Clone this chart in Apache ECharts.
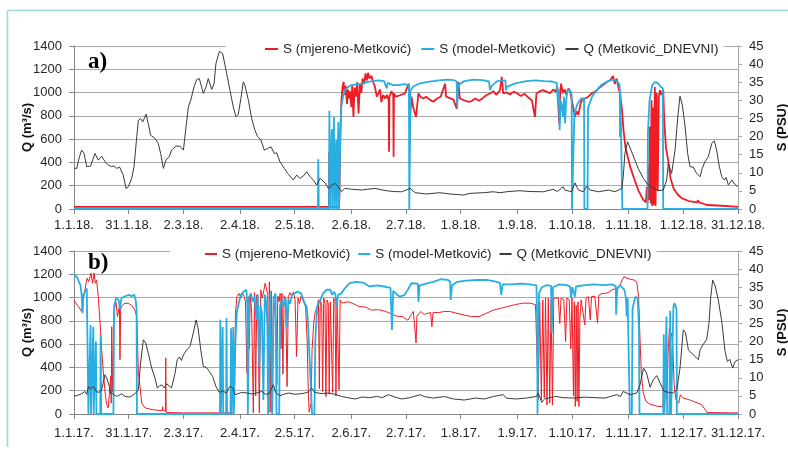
<!DOCTYPE html>
<html>
<head>
<meta charset="utf-8">
<script src="https://cdn.jsdelivr.net/npm/echarts@6/dist/echarts.min.js"></script>
<style>
  html, body { margin: 0; padding: 0; background: #fff; }
  #chart { width: 788px; height: 450px; }
</style>
</head>
<body>
<div id="chart"></div>
<script>
// Legend / series names
const seriesNames = ['S (mjereno-Metković)', 'S (model-Metković)', 'Q (Metković_DNEVNI)'];

// Day-of-year positions of the date ticks and their labels
const tickDays = [0, 30, 60, 91, 121, 152, 182, 212, 243, 273, 304, 334, 364];
const tickLabelsA = ['1.1.18.', '31.1.18.', '2.3.18.', '2.4.18.', '2.5.18.', '2.6.18.', '2.7.18.', '1.8.18.', '1.9.18.', '1.10.18.', '1.11.18.', '1.12.18.', '31.12.18.'];
const tickLabelsB = ['1.1.17.', '31.1.17.', '2.3.17.', '2.4.17.', '2.5.17.', '2.6.17.', '2.7.17.', '1.8.17.', '1.9.17.', '1.10.17.', '1.11.17.', '1.12.17.', '31.12.17.'];

// ---- 2018: discharge Q [day, m3/s] ----
const qA = [[0,350],[1.5,349],[3,450],[4.2,506],[5.5,477],[7,363],[9.1,369],[11.5,477],[13.3,420],[15.2,454],[17,406],[18.8,377],[20.7,363],[22,370],[23.4,349],[25,360],[27,291],[28.5,177],[29.8,191],[31.6,263],[32.9,363],[34.4,620],[35.3,763],[36.5,777],[37.7,748],[39.5,814],[40.7,734],[42,634],[44.4,606],[46.2,563],[47.5,477],[49,349],[50.4,420],[52.2,449],[53.5,506],[55.9,540],[58,540],[60,506],[61.4,706],[62.7,877],[64,934],[65.8,1049],[67.3,1112],[68.7,1120],[70.9,992],[72.4,1049],[73.6,1120],[75.5,1026],[76.8,1077],[77.8,1249],[79.7,1354],[81.5,1335],[83.7,1163],[85.5,1020],[87.3,877],[88.8,791],[90,810],[91.5,950],[92.8,1092],[93.7,1063],[95.6,934],[97.4,777],[99.2,677],[100.7,620],[102.5,592],[104.3,506],[106.2,520],[108,534],[109.8,477],[111.1,483],[112.9,406],[115.3,349],[117.1,306],[118.4,283],[120.2,249],[122.1,291],[123.9,263],[125.7,283],[127.6,320],[129.4,277],[131.2,249],[133,206],[134.9,263],[137.6,225],[139.4,177],[141.3,206],[143.1,220],[144.9,191],[146.7,148],[148.5,177],[152,170],[157.7,163],[161,170],[165,177],[170,160],[175,150],[179.6,148],[184.2,177],[187,140],[193.3,129],[200.6,140],[206,129],[213.4,120],[217,134],[224.4,140],[229.9,148],[233.5,140],[238,150],[244.5,157],[250,150],[257.3,148],[262.7,169],[265,150],[268.2,191],[269,163],[272.8,148],[274.6,225],[276.5,163],[279.2,148],[281.1,197],[282.9,163],[287.5,148],[293,163],[296.6,148],[300.3,177],[301.1,277],[302,477],[303.5,577],[305.7,491],[307.5,420],[309.3,349],[312.1,263],[314.8,206],[317.6,177],[320.3,157],[323,163],[324.9,249],[325.8,392],[326.7,349],[327.6,306],[329.5,506],[331,791],[332.2,969],[333.5,892],[335,706],[336.4,477],[337.7,363],[339.5,360],[341.3,306],[343.2,277],[344.4,349],[345.9,406],[347.7,449],[349.6,563],[351,586],[352.3,506],[353.6,377],[355.1,277],[356.5,249],[357.5,270],[358.7,206],[360.6,249],[362,215],[363.3,197],[364,200]];

// ---- 2018: modelled salinity S [day, PSU] ----
const sModelA = [[0,0],[133.7,0],[133.9,13.7],[134.2,0],[139.8,0],[140,27.1],[140.3,0],[141,0],[141.3,22],[141.6,0],[142.2,0],[142.5,25.4],[142.8,0],[143.4,0],[143.7,19],[144,0],[144.6,0],[144.9,24],[145.2,0],[145.5,0],[146,20],[146.5,28.2],[147.5,31],[148.5,32.8],[150,33.6],[152,34.2],[155,34.4],[158,34.6],[161,35.1],[164,35.3],[167,35.5],[170,35.3],[171.4,33.3],[172,34.8],[175,34.2],[178,34.2],[181,34.5],[183.6,34.2],[183.8,0],[184.2,0],[184.5,32.8],[186,33.8],[189,34.6],[194,35.1],[200,35.5],[205,35.7],[208,35.6],[209.8,35.2],[210.1,28.2],[210.5,34.2],[214,35.3],[219,35.7],[224,35.6],[227.5,35.2],[228,32.8],[229,34],[232,35.3],[236.5,35.5],[236.8,32.8],[237.5,33.8],[242,34.7],[248,35.3],[253,35.5],[258,35.3],[262,35.2],[264.6,34.8],[265.3,29.1],[265.8,33],[266.2,21.8],[266.8,30],[267.5,28.2],[268,25.4],[268.6,31],[269.2,23.6],[269.8,30],[270.5,32.8],[272,32.8],[272.8,31.5],[273,0],[274,0],[274.3,26.4],[276,29],[278,30.5],[279.6,30.5],[279.8,0],[281.5,0],[281.8,28],[284,31],[286,32.5],[289,34.2],[292,35.1],[295,35.7],[297,35.6],[299,34.5],[299.2,33],[299.3,19.9],[299.5,32.5],[300.4,32.5],[300.6,0],[314.4,0],[314.6,20.9],[315.5,30],[317,34.2],[318.5,35],[320,34.8],[321.5,33.8],[322.8,33.3],[323,0],[364,0]];

// ---- 2018: measured salinity S [day, PSU] ----
const sMeasA = [[0,0.6],[139.7,0.6],[139.9,15.8],[140.1,0.6],[145.2,0.6],[145.5,3.4],[146,20.9],[146.6,30],[147.2,33.7],[147.8,35.1],[148.4,31.5],[149,34],[149.6,29],[150.2,33],[150.8,30.5],[151.4,32.5],[152,28.2],[152.5,34],[153.2,25.4],[153.8,33.5],[154.5,31],[155.2,35],[156,26.4],[156.7,34.5],[157.5,32],[158.2,36],[159,34.5],[159.8,37.4],[160.5,35.5],[161.2,37.6],[162,36],[163,36.8],[164,35],[165,33.7],[166,31],[167,30.9],[167.8,33],[168.5,29.5],[169.5,31.5],[170.5,30.5],[171.5,31.5],[172.5,30],[172.7,15.8],[172.9,31],[174,32.5],[175,31.5],[175.2,14.4],[175.4,31.9],[176.5,31],[178.7,31.4],[181.4,31.9],[183.5,34.6],[184.2,25.4],[185,31],[186,28],[187.5,25.4],[188.8,31.9],[190,31],[191.5,30.5],[193,31],[195,30.2],[197,29.6],[199,30.5],[201,31],[203.4,34.6],[204,31],[206,30.6],[208,30.2],[209.8,27.7],[210.7,35.1],[211.5,30.5],[214,30],[216,29.6],[218,29.8],[220,30.5],[222,29.9],[224,30.6],[226,31.4],[228,31.9],[230,32.5],[231.5,31.5],[233.5,32.8],[234.5,36.5],[235.3,31.9],[237,32.2],[239,31.6],[241,32.4],[243,31.9],[245,31.2],[247,31.8],[249,30.8],[251,30],[252.7,25.4],[253.5,31.9],[255,32.4],[257,32.8],[259,32.4],[261,32],[262.7,33],[264,32.4],[265,33.7],[266,23.6],[266.5,32],[267,34.6],[268,32],[269,33],[270,31.5],[271,33.3],[272,32.5],[273,33],[274.6,25.4],[275.5,27],[276.5,26],[278,29.8],[280,30.5],[282,31],[284,32],[286,32.5],[288,33.5],[290,34.2],[292,35],[294,35.6],[295.5,36.7],[296.5,34.5],[297.5,36],[298.5,33.5],[299.3,31.9],[300.3,28],[301.2,22],[302.3,17],[303.5,14.5],[305,11.5],[307,8.5],[309.5,5],[312,2.6],[313.5,1.8],[314,6.1],[314.4,1.8],[314.8,12],[315.2,2.5],[315.7,22.7],[316.1,1.5],[316.6,30],[317,0.8],[317.5,28],[318,1.2],[318.4,33.7],[318.8,0.8],[319.4,32],[320,5],[320.6,31],[321.2,32.8],[322,31.5],[323,33],[323.6,24],[324.5,17],[325.7,13.5],[327,8.5],[328.8,5.5],[331,4],[333,3],[337,2.2],[341.5,1.8],[342,2.4],[342.7,1.8],[347,1.1],[355,0.9],[364,0.6]];

// ---- 2017: discharge Q [day, m3/s] ----
const qB = [[0,155],[1.5,157],[4.2,174],[6,194],[7,170],[7.9,237],[9,215],[10.6,237],[12.1,194],[13.5,185],[15,200],[17,337],[17.9,309],[19.4,237],[20.1,180],[21.5,170],[23.4,151],[26.1,174],[28,150],[30.7,146],[33.4,174],[35.3,208],[36.5,437],[38,637],[39.3,610],[40.7,523],[42.6,394],[44.4,309],[45.7,223],[46.8,240],[48.1,251],[49.4,225],[50.8,260],[52.2,240],[53.5,225],[55.4,351],[56.6,466],[57.8,490],[58.9,460],[60,508],[61.8,551],[63.6,580],[65.8,723],[66.9,808],[68,740],[69.5,551],[70.9,408],[72.5,400],[74.2,365],[76,322],[77.8,237],[79.7,185],[81.5,200],[83.4,180],[85.5,237],[87,225],[88.3,166],[91.9,185],[95,180],[98,170],[102.9,194],[105,170],[107,175],[109.3,251],[110.5,185],[112.9,157],[115,170],[117.5,180],[121,170],[125,175],[128,185],[130.3,223],[132,185],[136,175],[139.4,180],[143,170],[146.7,151],[150,140],[154,129],[158,146],[162,140],[166,151],[169,140],[172.3,166],[176,145],[179.6,129],[184,140],[189.7,166],[192,150],[197,137],[203,150],[208,129],[214,120],[220,137],[225,129],[230,151],[235.3,166],[237,137],[242,129],[248,137],[253.6,151],[254.5,180],[256.4,100],[258,130],[260,137],[264,151],[268,140],[274,137],[280,145],[286,140],[291,137],[294,150],[297.5,166],[299.5,150],[301.1,194],[304.8,166],[308.5,180],[310.3,251],[312.2,394],[313.9,351],[315.8,230],[317.6,294],[319.5,330],[321.3,266],[323.5,194],[326,185],[328.5,180],[330.5,210],[332.2,394],[334,723],[335.2,700],[336.8,551],[338.5,523],[340.4,495],[342.3,466],[343.2,551],[345,600],[346.8,637],[348.1,780],[349,994],[350.1,1151],[351.5,1100],[353.2,980],[355.1,794],[356.9,537],[358.2,451],[359.5,470],[361.1,394],[362.4,451],[364,466]];

// ---- 2017: modelled salinity S [day, PSU] ----
const sModelB = [[0,38.4],[1.5,37.9],[2.5,37.5],[3.5,35.6],[4.2,32.9],[4.7,27.8],[5.2,33],[6,33.3],[7,34.7],[7.7,34.5],[7.9,0],[8.9,0],[9.1,24.6],[9.3,0],[10.3,0],[10.6,24.1],[10.8,0],[11.8,0],[12,20],[12.3,0],[14.4,0],[14.6,21.9],[14.9,0],[21.6,0],[22,29.7],[23,32],[24.5,31.5],[25.2,29],[26,32],[28,32.5],[30.2,32.9],[31.5,32.5],[33,32.9],[33.8,31.5],[34.3,29],[34.5,0],[80,0],[80.2,26],[80.5,0],[81.2,0],[81.5,24],[81.8,0],[83.4,0],[83.6,26.5],[83.9,0],[85.8,0],[86.1,23.7],[86.4,0],[87,0],[87.3,24],[87.6,0],[88.1,0],[88.5,20],[89.3,28.3],[90.5,31],[91.5,32.9],[93,33.8],[94.5,34.3],[95,30],[95.3,0],[95.6,0],[96,32],[97,33.3],[98,31],[99,32.5],[100,26],[100.8,33],[101.5,13.1],[102.2,30],[103,28],[103.8,3.9],[104.6,33],[105.3,31],[106,25],[106.4,0],[107.2,0],[107.5,33.3],[108.3,33],[108.7,0],[109.2,0],[109.5,32],[110.5,33.3],[111,0],[112.5,0],[112.9,29.7],[114,31.5],[115,29.7],[116,32],[116.8,24],[117.6,31.5],[118.5,30.5],[119.5,32.9],[121,33.3],[122.5,33.8],[123.5,34.2],[124.5,33.3],[125.5,33],[126.5,30.5],[127.5,29.7],[128.3,25],[130.5,0],[131.8,0],[132.3,20.5],[133.3,29.7],[135,31.5],[136.5,33.3],[138.5,34.3],[140.5,34.3],[141.5,32.9],[142.5,33.8],[143.3,33],[144,29.7],[144.8,32.9],[146.5,33.3],[148.5,34.7],[151,36.1],[155,36.5],[159,36.2],[162,35.2],[166,35.5],[170,35.2],[173.5,34.8],[174.3,23.2],[175,34],[177,33],[178.7,32.4],[181,32.8],[183,34.3],[185,36.1],[188.5,36],[188.8,31],[189.5,35.5],[193,36],[197,36.5],[201,37.2],[205,37],[206.2,36.5],[206.5,31.5],[207.2,35.5],[210,36.5],[215,36.8],[221,37],[226,37],[230,36.7],[233.5,36.2],[234.2,32.9],[235,35.8],[240,35.8],[245,36],[250,35.8],[253.5,35.5],[253.9,26.5],[254.1,0],[254.6,0],[254.9,33.3],[256.5,35],[259,35.6],[261.5,35.4],[261.9,22.3],[262.6,35],[266,35.8],[270,35.6],[272,35.2],[272.5,32],[273.2,35],[274.6,32.4],[275.2,35.2],[280,35.6],[285,35.8],[290,35.6],[295,35.8],[297,35.3],[297.2,27.4],[297.8,34.5],[299.3,35.6],[301.7,34.3],[302.6,32],[303,26.9],[303.5,32],[304.4,31.5],[304.7,0],[305.8,0],[306.2,29],[307,31],[307.9,32.4],[309,31.9],[309.7,24.1],[310,0],[323,0],[323.3,22],[323.7,0],[324.5,0],[324.8,26.9],[325.2,0],[326.4,0],[326.8,28.5],[327.3,0],[328.2,0],[328.6,29.7],[329.2,30.6],[330.3,29],[330.5,0],[364,0]];

// ---- 2017: measured salinity S [day, PSU] ----
const sMeasB = [[0,31.5],[1.2,30.5],[2.4,29.7],[3.3,29.2],[4.2,28.3],[4.8,30.5],[5.5,32.9],[6.6,36.1],[7.2,37.5],[8,36.5],[8.8,37.9],[9.3,38.9],[10.2,36.1],[11,38.9],[11.7,36.1],[12.4,37],[13.3,32.4],[14.3,25.1],[15.2,17.7],[16.1,11.3],[17,6.2],[17.9,2.6],[18.8,1.7],[19.7,1.9],[20.1,10.4],[20.4,3],[20.7,24.1],[21.2,6],[21.9,28.3],[23,31],[23.8,26.9],[24.9,29.7],[25.2,15],[25.6,29],[26.1,29.7],[27.5,30.5],[29.8,30.6],[31.5,30],[33.4,28.7],[34.4,26.9],[35.3,11.3],[36.2,7.6],[37.1,3],[38.9,1.7],[43,1.2],[48.4,0.9],[48.6,2],[48.8,0.9],[50.1,0.8],[50.3,15.5],[50.5,0.5],[52,0.4],[60,0.3],[87.5,0.3],[88,8],[88.5,27.8],[89.3,32.4],[90.4,33.3],[91.5,32],[92.4,33.3],[93.3,32.5],[94,31],[94.8,11.3],[95.5,32.4],[96,18],[96.7,32.9],[97.4,28],[98.3,0.3],[99,33.5],[99.6,5],[100.2,32.9],[100.9,25],[101.6,0.3],[102.4,34.3],[103.2,32],[104,34],[104.8,36.1],[105.6,36.6],[106.2,33],[106.6,6],[107.1,36.5],[107.5,0.5],[108.1,34],[108.5,0.3],[109.3,32.4],[110.2,32],[110.8,25],[111.2,8],[111.7,32.5],[112.4,31],[113,33.3],[113.5,18],[114,33.3],[114.5,11],[115.2,32.5],[116,31.5],[116.8,7.6],[117.5,32.4],[118.4,33.5],[119.3,32.5],[120.3,33.7],[121.2,31.5],[122,15.9],[122.8,32],[123.6,30.5],[124.5,32.5],[125.4,31.5],[126.3,30.5],[127,29.5],[127.8,20.5],[128.4,6.7],[128.9,0.5],[129.5,0.3],[130,3],[130.5,17.7],[131.4,25.1],[132.3,28.3],[133.2,29.3],[134,31.5],[134.5,7],[135,31.5],[135.8,30],[136.3,6.2],[136.9,32],[137.6,30.5],[138.1,4.8],[138.7,31.5],[139.4,30.5],[139.9,5.5],[140.5,31],[141.3,31.5],[141.8,6],[142.4,32],[143.1,31],[143.6,5],[144.2,31.5],[144.9,31],[145.3,6.7],[145.9,31.5],[147,30.6],[150,31],[153,30.5],[156,29.7],[160,29.5],[163,28.7],[167,28.8],[171,28.3],[174,27.6],[177,27],[180,26.9],[183,25.9],[185,27.5],[186,28.3],[186.8,24],[187.5,19.6],[188,27],[190,28.3],[192,27.5],[194,27.8],[195.5,28],[196.2,24.1],[196.8,28],[200,28],[203,28.3],[206,28.3],[210,27.8],[214,27.3],[218,26.9],[222,26.9],[226,27.8],[230,28.7],[234,29.2],[238,29.7],[242,30.2],[246,30.6],[250,30.6],[253,30.2],[254,29.7],[254.5,3.9],[255.3,31],[256.2,3.9],[257,31.5],[257.8,4.5],[258.5,32],[259.3,2.5],[260,32],[260.8,3],[261.5,31.5],[262.3,2.5],[263,32],[264,31.5],[265.5,32],[266.3,25],[267,32],[268.5,31.5],[269.5,20],[270.2,32],[271.5,31.5],[272.3,18],[273,32],[273.8,5],[274.3,31],[274.8,2.1],[275.3,30],[275.8,3.5],[276.3,31],[276.8,2.1],[277.3,26],[278,31.5],[279,32],[280,24.6],[280.7,32],[282,32.4],[283,26],[283.7,32.4],[285.5,32.5],[287,25.1],[287.7,32.8],[289.5,33.3],[291,33.3],[293,33.5],[295,34.3],[297,34.6],[299,35.2],[300.5,37],[301.5,37.9],[303,37.5],[305,37.2],[307,37],[308.5,36.5],[309.5,32.4],[310.3,20.5],[311,11.3],[312,6],[313.5,3.5],[315.5,2.8],[318,2.4],[320,2.1],[322.8,2.1],[323.2,9.5],[323.8,3],[324.5,13.6],[325,4],[325.6,15.9],[326.4,23.7],[327,21.4],[327.6,22.3],[328.3,18],[329,8.1],[330,3.9],[331.5,3],[332.4,5.3],[334,4.4],[336,4.1],[338,3.8],[340,3.4],[342,3],[344,2.6],[346,1.2],[347,0.4],[364,0.3]];

const RED = '#f01c24';
const BLUE = '#27aee3';
const BLACK = '#3a3a3a';
const LABEL = '#262626';
const AXIS = '#868686';
const FONT = '"Liberation Sans", Arial, sans-serif';

function plain(v) { return String(v); }

function dateAxis(gridIndex, labels, margin) {
  return {
    type: 'value', gridIndex: gridIndex, min: 0, max: 364,
    axisLine: { show: true, onZero: false, lineStyle: { color: AXIS, width: 1 } },
    axisTick: { show: true, customValues: tickDays, length: 5, lineStyle: { color: AXIS } },
    axisLabel: {
      customValues: tickDays,
      formatter: function (v) { return labels[tickDays.indexOf(v)]; },
      color: LABEL, fontSize: 13, margin: margin, fontFamily: FONT
    },
    splitLine: { show: false }
  };
}

function qAxis(gridIndex) {
  return {
    type: 'value', gridIndex: gridIndex, position: 'left',
    min: 0, max: 1400, interval: 200,
    name: 'Q (m³/s)', nameLocation: 'middle', nameGap: 40, nameRotate: 90,
    nameMoveOverlap: false,
    nameTextStyle: { fontWeight: 'bold', fontSize: 13, color: '#111', fontFamily: FONT },
    axisLine: { show: true, lineStyle: { color: AXIS } },
    axisTick: { show: true, length: 5, lineStyle: { color: AXIS } },
    axisLabel: { fontSize: 13, color: LABEL, margin: 12, fontFamily: FONT, formatter: plain },
    splitLine: { show: true, lineStyle: { color: '#aaaaaa', width: 1 } }
  };
}

function sAxis(gridIndex) {
  return {
    type: 'value', gridIndex: gridIndex, position: 'right',
    min: 0, max: 45, interval: 5,
    name: 'S (PSU)', nameLocation: 'middle', nameGap: 38, nameRotate: 90,
    nameMoveOverlap: false,
    nameTextStyle: { fontWeight: 'bold', fontSize: 13, color: '#111', fontFamily: FONT },
    axisLine: { show: true, lineStyle: { color: '#a6a6a6' } },
    axisTick: { show: true, length: 4, lineStyle: { color: '#a6a6a6' } },
    axisLabel: { fontSize: 13, color: LABEL, margin: 11, fontFamily: FONT, formatter: plain },
    splitLine: { show: false }
  };
}

function line(name, xi, yi, data, color, width, z) {
  return {
    name: name, type: 'line', xAxisIndex: xi, yAxisIndex: yi, data: data,
    symbol: 'none', showSymbol: false, smooth: false, z: z,
    lineStyle: { color: color, width: width },
    itemStyle: { color: color },
    emphasis: { disabled: true }
  };
}

function legendBox(left, top, padLeft, gap, iconW) {
  return {
    data: seriesNames.map(function (n) { return { name: n, icon: 'rect' }; }),
    left: left, top: top,
    padding: [4, 5, 4, padLeft], itemGap: gap, itemWidth: iconW, itemHeight: 2,
    backgroundColor: '#ffffff', selectedMode: false,
    textStyle: { fontSize: 13.5, color: LABEL, fontFamily: FONT }
  };
}

const chart = echarts.init(document.getElementById('chart'), null, { renderer: 'canvas' });
chart.setOption({
  animation: false,
  backgroundColor: '#ffffff',
  textStyle: { fontFamily: FONT },
  title: [
    { text: 'a)', left: 88, top: 51, padding: 0,
      textStyle: { fontFamily: '"Liberation Serif", "Times New Roman", serif', fontWeight: 'bold', fontSize: 23, color: '#000' } },
    { text: 'b)', left: 88, top: 252, padding: 0,
      textStyle: { fontFamily: '"Liberation Serif", "Times New Roman", serif', fontWeight: 'bold', fontSize: 23, color: '#000' } }
  ],
  graphic: [
    { type: 'line', silent: true, z: -10, shape: { x1: 7.5, y1: 10.5, x2: 788, y2: 10.5 },
      style: { stroke: '#9fd4e0', lineWidth: 1.5 } },
    { type: 'line', silent: true, z: -10, shape: { x1: 7.5, y1: 10.5, x2: 7.5, y2: 447 },
      style: { stroke: '#9fd4e0', lineWidth: 1.5 } }
  ],
  legend: [
    legendBox(226, 38, 39, 10, 13),
    legendBox(170, 243, 35, 8, 12)
  ],
  grid: [
    { left: 74, right: 50, top: 46, height: 163, outerBoundsMode: 'none', containLabel: false },
    { left: 74, right: 50, top: 251, height: 163, outerBoundsMode: 'none', containLabel: false }
  ],
  xAxis: [dateAxis(0, tickLabelsA, 10), dateAxis(1, tickLabelsB, 13)],
  yAxis: [qAxis(0), sAxis(0), qAxis(1), sAxis(1)],
  series: [
    line(seriesNames[0], 0, 1, sMeasA, RED, 1.8, 2),
    line(seriesNames[1], 0, 1, sModelA, BLUE, 1.8, 3),
    line(seriesNames[2], 0, 0, qA, BLACK, 1, 4),
    line(seriesNames[0], 1, 3, sMeasB, RED, 1, 2),
    line(seriesNames[1], 1, 3, sModelB, BLUE, 1.8, 3),
    line(seriesNames[2], 1, 2, qB, BLACK, 1, 4)
  ]
});
</script>
</body>
</html>
